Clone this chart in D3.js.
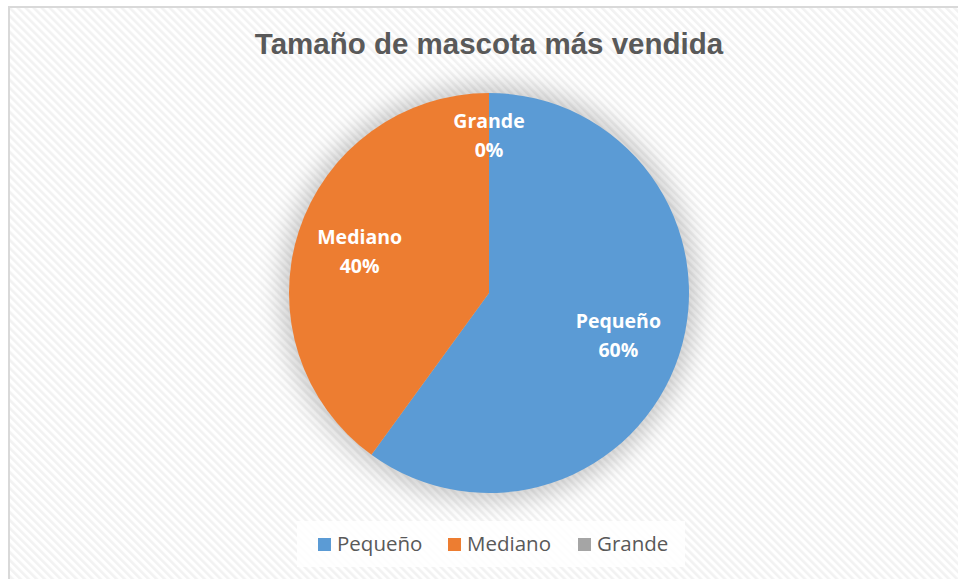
<!DOCTYPE html>
<html>
<head>
<meta charset="utf-8">
<script src="https://cdn.jsdelivr.net/npm/d3@7"></script>
<style>
  body { margin: 0; background: #fff; }
  svg { display: block; }
</style>
</head>
<body>
<div id="chart"></div>
<script>
// chart data
var categories = ["Pequeño", "Mediano", "Grande"];
var values = [60, 40, 0];
var colors = ["#5b9bd5", "#ed7d31", "#a5a5a5"];
var title = "Tamaño de mascota más vendida";

var W = 958, H = 579;
var cx = 489, cy = 293, r = 200;

var svg = d3.select("#chart").append("svg")
  .attr("width", W)
  .attr("height", H);

var defs = svg.append("defs");

// diagonal stripes of the chart area
var pat = defs.append("pattern")
  .attr("id", "stripes")
  .attr("patternUnits", "userSpaceOnUse")
  .attr("width", 5.66)
  .attr("height", 5.66)
  .attr("patternTransform", "rotate(-45)");
pat.append("rect").attr("width", 5.66).attr("height", 5.66).attr("fill", "#fff");
pat.append("rect").attr("width", 2.6).attr("height", 5.66).attr("fill", "#f2f2f2");

// soft shadow round the pie
var f = defs.append("filter")
  .attr("id", "glow")
  .attr("x", "-30%").attr("y", "-30%")
  .attr("width", "160%").attr("height", "160%");
f.append("feGaussianBlur").attr("stdDeviation", 12);

// frame
svg.append("rect")
  .attr("x", 9).attr("y", 7)
  .attr("width", W - 9).attr("height", H - 7)
  .attr("fill", "url(#stripes)");
svg.append("path")
  .attr("d", "M9," + H + " V7 H" + W)
  .attr("fill", "none")
  .attr("stroke", "#d9d9d9")
  .attr("stroke-width", 2);

// title
svg.append("text")
  .attr("x", cx)
  .attr("y", 54)
  .attr("text-anchor", "middle")
  .style("font-family", "'Liberation Sans', Arial, sans-serif")
  .style("font-weight", "bold")
  .style("font-size", "29.5px")
  .style("fill", "#595959")
  .text(title);

var data = categories.map(function (c, i) {
  return {name: c, value: values[i], color: colors[i]};
});

var pie = d3.pie().sort(null).value(function (d) { return d.value; });
var arcs = pie(data);
var arc = d3.arc().innerRadius(0).outerRadius(r);

var g = svg.append("g").attr("transform", "translate(" + cx + "," + cy + ")");

g.append("circle")
  .attr("r", r + 8)
  .attr("fill", "#000")
  .attr("opacity", 0.2)
  .attr("filter", "url(#glow)");

g.selectAll("path.slice")
  .data(arcs)
  .enter()
  .append("path")
  .attr("class", "slice")
  .attr("d", arc)
  .attr("fill", function (d) { return d.data.color; });

// data labels
var total = d3.sum(values);
var labels = g.selectAll("text.lbl")
  .data(arcs)
  .enter()
  .append("text")
  .attr("class", "lbl")
  .attr("text-anchor", "middle")
  .style("font-family", "'Open Sans', sans-serif")
  .style("font-weight", "bold")
  .style("font-size", "19.5px")
  .style("fill", "#fff")
  .attr("transform", function (d) {
    var lr = d.value === 0 ? r * 0.79 : r * 0.68;
    var c = d3.arc().innerRadius(lr).outerRadius(lr).centroid(d);
    return "translate(" + c[0] + "," + c[1] + ")";
  });
labels.append("tspan")
  .attr("x", 0)
  .attr("y", -7)
  .text(function (d) { return d.data.name; });
labels.append("tspan")
  .attr("x", 0)
  .attr("y", 22)
  .text(function (d) { return Math.round(d.value / total * 100) + "%"; });

// legend
var lg = svg.append("g");
lg.append("rect")
  .attr("x", 297).attr("y", 521)
  .attr("width", 388).attr("height", 46)
  .attr("fill", "#fff")
  .attr("opacity", 0.85);

var legendX = [318, 448, 578];
var items = lg.selectAll("g.item")
  .data(data)
  .enter()
  .append("g")
  .attr("class", "item")
  .attr("transform", function (d, i) { return "translate(" + legendX[i] + ",538)"; });
items.append("rect")
  .attr("width", 13).attr("height", 13)
  .attr("fill", function (d) { return d.color; });
items.append("text")
  .attr("x", 19)
  .attr("y", 13)
  .style("font-family", "'Open Sans', sans-serif")
  .style("font-size", "20.5px")
  .style("fill", "#595959")
  .text(function (d) { return d.name; });
</script>
</body>
</html>
